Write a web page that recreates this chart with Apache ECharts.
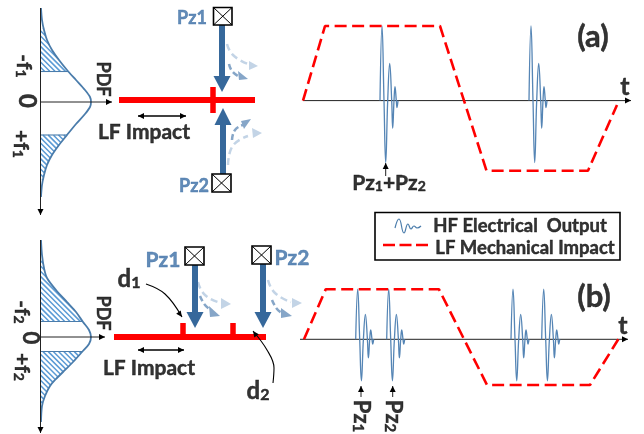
<!DOCTYPE html>
<html><head><meta charset="utf-8">
<style>html,body{margin:0;padding:0;background:#fff}#c{width:644px;height:434px}</style>
<script src="https://cdn.jsdelivr.net/npm/echarts@6/dist/echarts.min.js"></script>
</head><body><div id="c"></div>
<script>
// ---- data (diagram units = reference pixels) ----
var pdfCurveA=[[41,8],[42,20],[44,30],[47,40],[52,50],[59,60],[67,70],[76,80],[85,90],[90,97],[91,102],[90,107],[85,114],[76,124],[67,135],[59,145],[52,155],[47,165],[44,175],[42,185],[41,197]];
var pdfCurveB=[[41,240],[42,255],[44,268],[47,278],[56,290],[67,302],[76,312],[83,322],[89,330],[91,337],[89,344],[82,352],[73,362],[63,372],[55,380],[50,386],[45,396],[42,406],[41,422]];
var hatchRangesA=[[28,71.5],[135,180]];
var hatchRangesB=[[258,321.5],[351.5,408]];
var trapA=[[303,100.7],[325,26],[440,26],[486.5,170.7],[588,170.7],[617,105]];
var trapB=[[304,339.3],[325.7,289.3],[439,289.3],[487,385],[590,385],[618.3,339.3]];
var pulseOffsets=[0,2,4,5.7,7.7,9.7,11.7,12.7,14,15,16.3,17,18];
var pulseAmps=[0,74.7,0,-62,0,37.3,0,-27.7,0,14,0,-7,0];
var burstsA=[380,529];
var burstsB=[355.7,386.7,511,541.7];
var legendWave=[[395,228],[399,219],[404,233],[408,224],[411,229],[414,226],[417,228],[421,226]];
var legendDash=[[383,245],[428,245]];
var beams=[[[119,100],[255,100]],[[114,337],[266,337]]];
var beamTicks=[[[213,87],[213,113]],[[183,323],[183,337]],[[233,323],[233,337]]];
var sensorBoxes=[[213.5,7.5,232,25],[212,174,231,192],[185,247,204,265],[252,246,271,264]];
var bigArrows=[[222,25,76,92],[223,174,125,108],[195,265,312,328],[263,264,312,328]];
var fadeArrowsDark=[[[229,64],[232,71],[238,76]],[[232,140],[235,130],[243,125]],[[200,296],[205,305],[211,310]],[[272,300],[277,309],[282,313]]];
var fadeHeadsDark=[[[248,79],[238,71],[239,80]],[[251,119],[241,121],[244,129]],[[220,316],[209,306],[210,317]],[[292,316],[281,308],[281,318]]];
var fadeArrowsLight=[[[227,44],[233,55],[248,64]],[[228,165],[232,147],[248,136]],[[198,282],[205,295],[221,303]],[[268,280],[275,293],[291,302]]];
var fadeHeadsLight=[[[258,66],[249,61],[249,70]],[[262,133],[252,128],[253,138]],[[231,304],[221,298],[221,309]],[[302,303],[292,298],[292,308]]];
var thinArrows=[[[40.5,8],[40.5,215]],[[40.5,102],[112,102]],[[40.5,240],[40.5,433]],[[40.5,337],[105,337]],[[303,100.6],[631,100.6]],[[300,339.3],[628,339.3]],[[385.7,176],[385.7,163]],[[361,397],[361,386]],[[392.7,397],[392.7,386]]];
var doubleArrows=[[138,186,116],[138,184,350]];
var curvedArrows=[[[146,284],[165,294],[182,317]],[[273,383],[274,368],[267,350],[253,331]]];
var texts=[
 ['PDF',103,79,-90,18,'#000'],['-f{s|1}',24,66,-90,21,'#000'],['0',27,101,-90,24,'#000'],['+f{s|1}',21,144,-90,21,'#000'],
 ['PDF',103,313,-90,18,'#000'],['-f{s|2}',22,312,-90,21,'#000'],['0',30,338,-90,22,'#000'],['+f{s|2}',22,367,-90,21,'#000'],
 ['Pz1',192,18,0,18,'#3b6ea5'],['Pz2',194,186,0,18,'#3b6ea5'],['Pz1',163,260,0,21,'#3b6ea5'],['Pz2',292,258,0,21,'#3b6ea5'],
 ['LF Impact',144,132,0,21,'#000'],['LF Impact',149,368,0,21,'#000'],
 ['d{s|1}',129,279,0,24,'#000'],['d{s|2}',258,391,0,24,'#000'],
 ['Pz{s|1}+Pz{s|2}',389,183,0,21,'#000'],['Pz{s|1}',361,416,-90,22,'#000'],['Pz{s|2}',393,416,-90,22,'#000'],
 ['(a)',593,37,0,31,'#000'],['(b)',594,297,0,31,'#000'],['t',625,87,0,25,'#000'],['t',623,326,0,25,'#000'],
 ['HF Electrical  Output',520,226,0,18.5,'#000'],['LF Mechanical Impact',525,248,0,18.5,'#000']
];
var legendBox=[375,212.5,620,260];

// ---- drawing ----
var BLUE='#36689b',CURVE='#4a7cab',HATCH='#5b9bd5',RED='#ff0000',FONT='Lato, "Open Sans", sans-serif';
var series=[];
function line(pts,color,w,extra){
  var ls={color:color,width:w};
  var s={type:'line',data:pts,showSymbol:false,symbol:'none',silent:true,clip:false,animation:false,lineStyle:ls,z:3};
  if(extra){ if(extra.dash) ls.type=extra.dash; if(extra.smooth!==undefined) s.smooth=extra.smooth; if(extra.z) s.z=extra.z; }
  series.push(s);
}
function poly(pts,fill,stroke,w,z){
  series.push({type:'custom',silent:true,clip:false,animation:false,z:z||4,data:[pts[0]],
    renderItem:function(p,api){return {type:'polygon',shape:{points:pts.map(function(q){return api.coord(q);})},
      style:{fill:fill,stroke:stroke||null,lineWidth:w||0}};}});
}
function head(tip,from,len,hw,color){
  var dx=tip[0]-from[0],dy=tip[1]-from[1],d=Math.hypot(dx,dy);dx/=d;dy/=d;
  var bx=tip[0]-dx*len,by=tip[1]-dy*len;
  poly([tip,[bx-dy*hw,by+dx*hw],[bx+dy*hw,by-dx*hw]],color||'#000');
}
function curveX(curve,y){
  for(var i=0;i<curve.length-1;i++){var a=curve[i],b=curve[i+1];
    if(y>=a[1]&&y<=b[1]) return a[0]+(b[0]-a[0])*(y-a[1])/(b[1]-a[1]);}
  return 40.5;
}
function hatch(curve,range,edgeY){
  var pts=[];
  for(var c=range[0]-70;c<range[1];c+=5.2){
    var first=null,last=null;
    for(var x=40.5;x<100;x+=0.25){var y=c+x-40.5;
      if(y>=range[0]&&y<=range[1]&&x<=curveX(curve,y)){ if(!first)first=[x,y]; last=[x,y]; }}
    if(first&&last&&first!==last){pts.push(first,last,['-','-']);}
  }
  line(pts,HATCH,1.5,{z:2});
  line([[40.5,edgeY],[curveX(curve,edgeY),edgeY]],CURVE,1.1,{z:2});
}
hatch(pdfCurveA,hatchRangesA[0],hatchRangesA[0][1]);
hatch(pdfCurveA,hatchRangesA[1],hatchRangesA[1][0]);
hatch(pdfCurveB,hatchRangesB[0],hatchRangesB[0][1]);
hatch(pdfCurveB,hatchRangesB[1],hatchRangesB[1][0]);
line(pdfCurveA,CURVE,1.8,{smooth:0.3});
line(pdfCurveB,CURVE,1.8,{smooth:0.3});
thinArrows.forEach(function(a){
  line(a,'#222',1);
  head(a[1],a[0],6,3);
});
beams.forEach(function(b){line(b,RED,6);});
beamTicks.forEach(function(b){line(b,RED,5.5);});
sensorBoxes.forEach(function(b){
  poly([[b[0],b[1]],[b[2],b[1]],[b[2],b[3]],[b[0],b[3]]],'#fff','#000',1.6,6);
  line([[b[0],b[1]],[b[2],b[3]],['-','-'],[b[2],b[1]],[b[0],b[3]]],'#000',1,{z:7});
});
bigArrows.forEach(function(a){
  line([[a[0],a[1]],[a[0],a[2]]],BLUE,6);
  poly([[a[0],a[3]],[a[0]-8.5,a[2]],[a[0]+8.5,a[2]]],BLUE);
});
fadeArrowsLight.forEach(function(a,i){
  line(a,'#c3d4e6',2.5,{dash:[7,4],smooth:0.5,z:1});
  poly(fadeHeadsLight[i],'#c3d4e6',null,0,1);
});
fadeArrowsDark.forEach(function(a,i){
  line(a,'#86a6c8',2.5,{dash:[6,3],smooth:0.5,z:1});
  poly(fadeHeadsDark[i],'#86a6c8',null,0,1);
});
doubleArrows.forEach(function(a){
  line([[a[0],a[2]],[a[1],a[2]]],'#000',1.3);
  head([a[0],a[2]],[a[1],a[2]],6,3);
  head([a[1],a[2]],[a[0],a[2]],6,3);
});
curvedArrows.forEach(function(a){
  line(a,'#000',1.1,{smooth:0.4});
  head(a[a.length-1],a[a.length-2],6,2.8);
});
function bursts(starts,base,scale){
  starts.forEach(function(s0){
    line(pulseOffsets.map(function(o,i){return [s0+o,base-pulseAmps[i]*scale];}),'#5585b5',1.3,{smooth:0.45,z:3});
  });
}
bursts(burstsA,100.6,1);
bursts(burstsB,339.3,0.67);
line(trapA,RED,2.6,{dash:[12,5.5],z:3});
line(trapB,RED,2.6,{dash:[12,5.5],z:3});
poly([[legendBox[0],legendBox[1]],[legendBox[2],legendBox[1]],[legendBox[2],legendBox[3]],[legendBox[0],legendBox[3]]],'#fff','#000',1.6,8);
line(legendWave,'#4a7cab',1.2,{smooth:0.5,z:9});
line(legendDash,RED,2.6,{dash:[12,4.5],z:9});
series.push({type:'scatter',silent:true,clip:false,animation:false,symbolSize:0,z:20,zlevel:1,
  data:texts.map(function(t){
    var bold={fontWeight:'bold',color:t[5],fontFamily:FONT,textBorderColor:t[5],textBorderWidth:0.45};
    return {value:[t[1],t[2]],
    label:Object.assign({show:true,position:'inside',formatter:t[0],rotate:t[3],fontSize:t[4],
      rich:{s:Object.assign({fontSize:Math.round(t[4]*0.66),verticalAlign:'bottom',padding:[Math.round(t[4]*0.3),0,0,0]},bold)}},bold)};})
});
var chart=echarts.init(document.getElementById('c'),null,{renderer:'canvas',width:644,height:434});
chart.setOption({animation:false,backgroundColor:'#fff',
  grid:{left:0,right:0,top:0,bottom:0},
  xAxis:{type:'value',min:0,max:644,show:false},
  yAxis:{type:'value',min:0,max:434,inverse:true,show:false},
  series:series});
</script></body></html>
